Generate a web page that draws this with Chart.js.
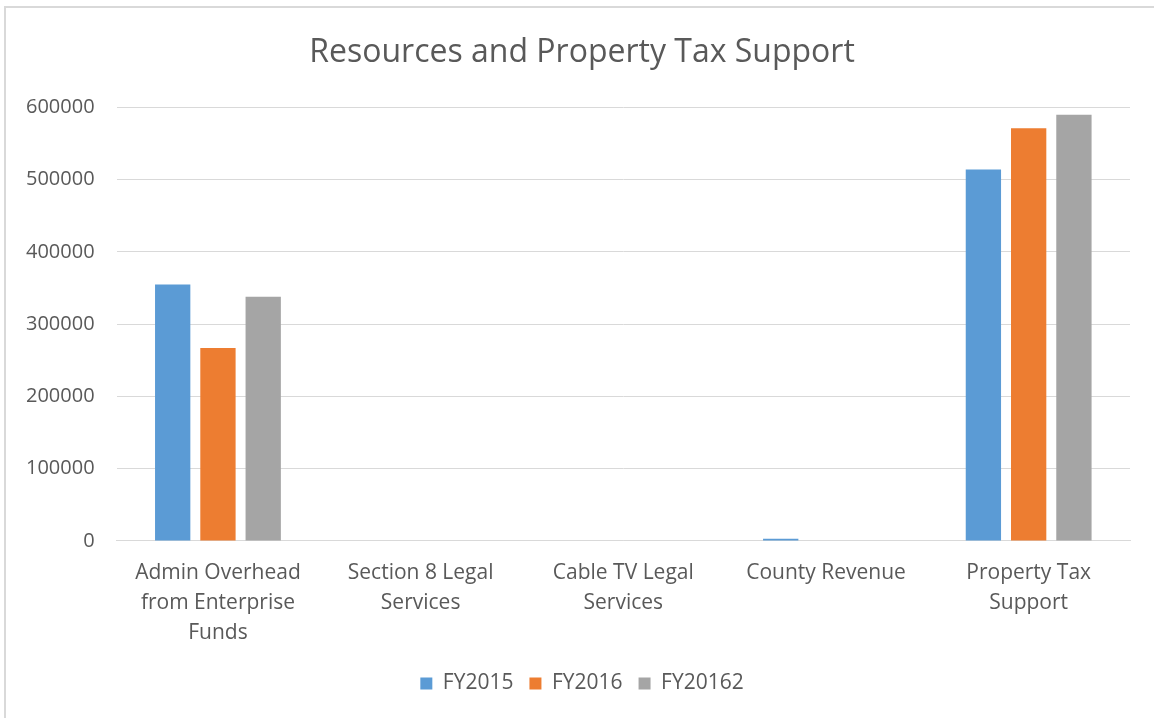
<!DOCTYPE html>
<html>
<head>
<meta charset="utf-8">
<script src="https://cdn.jsdelivr.net/npm/chart.js@4.4.0/dist/chart.umd.min.js"></script>
<style>
    body { margin: 0; background: #fff; overflow: hidden; }
    #frame {
        position: absolute; left: 4px; top: 6px; width: 1200px; height: 800px;
        border-left: 2px solid #d9d9d9; border-top: 2px solid #d9d9d9;
    }
    #wrap { position: absolute; left: 0; top: 0; width: 1154px; height: 718px; }
</style>
</head>
<body>
<div id="frame"></div>
<div id="wrap"><canvas id="chart"></canvas></div>
<script>
var categories = [
    ["Admin Overhead", "from Enterprise", "Funds"],
    ["Section 8 Legal", "Services"],
    ["Cable TV Legal", "Services"],
    "County Revenue",
    ["Property Tax", "Support"]
];
var fy2015 = [355000, 0, 0, 3000, 514000];
var fy2016 = [267000, 0, 0, 0, 571000];
var fy20162 = [338000, 0, 0, 0, 590000];
var yTicks = [0, 100000, 200000, 300000, 400000, 500000, 600000];

var textColor = "#595959";
var fontFamily = "'Open Sans', 'Liberation Sans', sans-serif";

function makeSet(label, values, color) {
    return {
        label: label,
        data: values,
        backgroundColor: color,
        borderWidth: 0,
        barPercentage: 0.78,
        categoryPercentage: 0.67
    };
}

// title and legend sit centred on the whole frame, not on the padded box
var shiftBlocks = {
    id: 'shiftBlocks',
    afterLayout: function(chart) {
        chart.titleBlock.left += 15;
        chart.titleBlock.right += 15;
        chart.legend.left += 15;
        chart.legend.right += 15;
    }
};

var data = {
    labels: categories,
    datasets: [
        makeSet("FY2015", fy2015, "#5b9bd5"),
        makeSet("FY2016", fy2016, "#ed7d31"),
        makeSet("FY20162", fy20162, "#a5a5a5")
    ]
};

var config = {
    type: 'bar',
    data: data,
    plugins: [shiftBlocks],
    options: {
        responsive: false,
        animation: false,
        layout: { padding: { left: 4, right: 24, top: 34, bottom: 14 } },
        plugins: {
            title: {
                display: true,
                text: "Resources and Property Tax Support",
                color: textColor,
                font: { family: fontFamily, size: 32, weight: 'normal' },
                padding: { top: 0, bottom: 35 }
            },
            legend: {
                position: 'bottom',
                labels: {
                    color: textColor,
                    font: { family: fontFamily, size: 21 },
                    boxWidth: 12,
                    boxHeight: 12,
                    padding: 16
                }
            },
            tooltip: { enabled: false }
        },
        scales: {
            x: {
                grid: { display: false },
                border: { color: "#d9d9d9", width: 1 },
                ticks: {
                    color: textColor,
                    font: { family: fontFamily, size: 21, lineHeight: 1.43 },
                    maxRotation: 0,
                    padding: 9
                }
            },
            y: {
                min: 0,
                max: 600000,
                afterBuildTicks: function(axis) {
                    axis.ticks = yTicks.map(function(v) { return { value: v }; });
                },
                grid: { color: "#d9d9d9", lineWidth: 1, drawTicks: false },
                border: { display: false },
                ticks: {
                    color: textColor,
                    font: { family: fontFamily, size: 20 },
                    padding: 22,
                    callback: function(v) { return String(v); }
                }
            }
        }
    }
};

var canvas = document.getElementById("chart");
canvas.width = 1154;
canvas.height = 718;
var myChart = new Chart(canvas, config);
</script>
</body>
</html>
